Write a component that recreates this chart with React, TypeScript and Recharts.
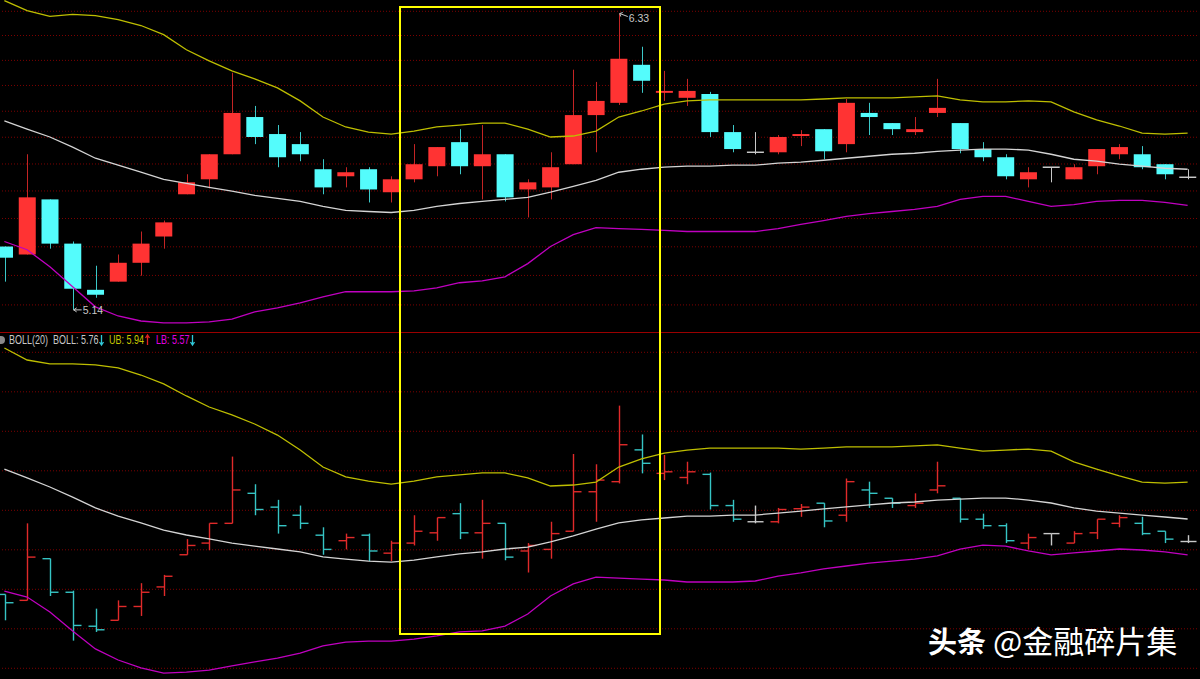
import React from "react";
import { ComposedChart, Bar, Line, XAxis, YAxis, CartesianGrid, ReferenceDot } from "recharts";

// daily OHLC
const open = [
  5.374, 5.344, 5.555, 5.385, 5.213, 5.243, 5.313, 5.412, 5.575, 5.634,
  5.734, 5.886, 5.816, 5.775, 5.674, 5.646, 5.674, 5.583, 5.634, 5.686,
  5.783, 5.686, 5.734, 5.594, 5.602, 5.694, 5.894, 5.945, 6.106, 5.987,
  5.966, 5.982, 5.824, 5.742, 5.742, 5.808, 5.836, 5.775, 5.903, 5.861,
  5.824, 5.903, 5.861, 5.755, 5.722, 5.634, 5.682, 5.634, 5.686, 5.734,
  5.734, 5.694, 5.642,
];
const high = [
  5.374, 5.734, 5.555, 5.393, 5.302, 5.344, 5.431, 5.473, 5.654, 5.734,
  6.072, 5.932, 5.853, 5.824, 5.714, 5.682, 5.682, 5.646, 5.775, 5.763,
  5.836, 5.853, 5.734, 5.634, 5.742, 6.085, 6.033, 6.33, 6.184, 6.08,
  6.046, 5.991, 5.853, 5.824, 5.812, 5.832, 5.836, 5.961, 5.945, 5.861,
  5.886, 6.046, 5.861, 5.783, 5.734, 5.682, 5.682, 5.694, 5.755, 5.775,
  5.767, 5.694, 5.674,
];
const low = [
  5.243, 5.344, 5.366, 5.14, 5.184, 5.243, 5.265, 5.366, 5.575, 5.598,
  5.734, 5.775, 5.682, 5.706, 5.575, 5.602, 5.543, 5.543, 5.622, 5.646,
  5.654, 5.555, 5.547, 5.485, 5.555, 5.694, 5.742, 5.936, 5.987, 5.953,
  5.932, 5.804, 5.742, 5.734, 5.734, 5.767, 5.714, 5.742, 5.812, 5.812,
  5.812, 5.886, 5.738, 5.706, 5.634, 5.602, 5.622, 5.634, 5.654, 5.714,
  5.674, 5.634, 5.634,
];
const close = [
  5.332, 5.563, 5.385, 5.217, 5.195, 5.313, 5.385, 5.466, 5.622, 5.734,
  5.903, 5.804, 5.722, 5.734, 5.602, 5.662, 5.594, 5.634, 5.694, 5.763,
  5.686, 5.734, 5.563, 5.622, 5.682, 5.894, 5.953, 6.132, 6.038, 5.995,
  5.995, 5.824, 5.755, 5.742, 5.804, 5.816, 5.746, 5.945, 5.886, 5.836,
  5.836, 5.924, 5.755, 5.722, 5.646, 5.662, 5.682, 5.682, 5.755, 5.763,
  5.682, 5.654, 5.642,
];
const days = open.map((_, i) => `${i + 1}`);

// bands drawn over the candles in the main panel
const topUB = [
  6.388, 6.343, 6.317, 6.326, 6.321, 6.303, 6.277, 6.237, 6.171, 6.123,
  6.08, 6.046, 6.008, 5.953, 5.886, 5.845, 5.824, 5.816, 5.828, 5.845,
  5.853, 5.861, 5.861, 5.836, 5.804, 5.808, 5.828, 5.886, 5.911, 5.94,
  5.953, 5.957, 5.957, 5.957, 5.957, 5.957, 5.961, 5.966, 5.966, 5.966,
  5.97, 5.974, 5.957, 5.949, 5.949, 5.953, 5.949, 5.907, 5.874, 5.849,
  5.82, 5.816, 5.82,
];
const topMid = [
  5.87, 5.836, 5.804, 5.763, 5.718, 5.69, 5.662, 5.634, 5.618, 5.602,
  5.587, 5.571, 5.559, 5.547, 5.528, 5.512, 5.508, 5.504, 5.512, 5.528,
  5.539, 5.547, 5.555, 5.563, 5.583, 5.606, 5.63, 5.662, 5.674, 5.682,
  5.686, 5.686, 5.69, 5.69, 5.698, 5.702, 5.71, 5.718, 5.726, 5.734,
  5.738, 5.746, 5.751, 5.755, 5.755, 5.751, 5.734, 5.714, 5.706, 5.694,
  5.686, 5.678, 5.674,
];
const topLB = [
  5.393, 5.362, 5.298, 5.224, 5.151, 5.118, 5.1, 5.093, 5.093, 5.097,
  5.107, 5.133, 5.147, 5.165, 5.187, 5.206, 5.206, 5.206, 5.209, 5.22,
  5.239, 5.246, 5.261, 5.31, 5.374, 5.419, 5.446, 5.442, 5.439, 5.435,
  5.431, 5.431, 5.431, 5.431, 5.442, 5.458, 5.473, 5.489, 5.5, 5.508,
  5.516, 5.528, 5.555, 5.567, 5.567, 5.547, 5.528, 5.535, 5.547, 5.551,
  5.551, 5.543, 5.532,
];

// BOLL(20) in the lower panel
const bollUB = [
  6.622, 6.561, 6.541, 6.541, 6.536, 6.521, 6.485, 6.44, 6.379, 6.323,
  6.283, 6.237, 6.181, 6.105, 6.019, 5.969, 5.948, 5.933, 5.948, 5.969,
  5.979, 5.989, 5.989, 5.964, 5.923, 5.928, 5.943, 6.019, 6.06, 6.09,
  6.105, 6.115, 6.115, 6.115, 6.115, 6.11, 6.115, 6.121, 6.121, 6.121,
  6.126, 6.131, 6.115, 6.1, 6.105, 6.11, 6.1, 6.045, 6.009, 5.974,
  5.943, 5.938, 5.943,
];
const bollMid = [
  6.009, 5.964, 5.918, 5.867, 5.812, 5.771, 5.736, 5.7, 5.675, 5.655,
  5.634, 5.619, 5.604, 5.589, 5.564, 5.553, 5.543, 5.538, 5.548, 5.564,
  5.579, 5.589, 5.604, 5.614, 5.64, 5.67, 5.705, 5.736, 5.751, 5.761,
  5.771, 5.771, 5.776, 5.776, 5.786, 5.796, 5.807, 5.817, 5.827, 5.837,
  5.842, 5.852, 5.857, 5.862, 5.862, 5.852, 5.837, 5.812, 5.796, 5.786,
  5.776, 5.766, 5.756,
];
const bollLB = [
  5.391, 5.361, 5.285, 5.189, 5.098, 5.042, 5.002, 4.976, 4.981, 4.991,
  5.012, 5.032, 5.052, 5.077, 5.113, 5.133, 5.138, 5.138, 5.148, 5.164,
  5.184, 5.189, 5.214, 5.275, 5.366, 5.427, 5.462, 5.457, 5.452, 5.447,
  5.437, 5.437, 5.437, 5.442, 5.467, 5.483, 5.503, 5.518, 5.533, 5.543,
  5.553, 5.569, 5.604, 5.624, 5.619, 5.594, 5.574, 5.584, 5.594, 5.604,
  5.599, 5.589, 5.574,
];

const topGrid = [5.158, 5.266, 5.373, 5.481, 5.588, 5.695, 5.803, 5.91, 6.018, 6.125, 6.233, 6.34];
const subGrid = [5.0, 5.2, 5.4, 5.6, 5.8, 6.0, 6.2, 6.4, 6.6];

const data = days.map((day, i) => ({
  day,
  open: open[i],
  high: high[i],
  low: low[i],
  close: close[i],
  range: [low[i], high[i]],
  ub: topUB[i],
  mid: topMid[i],
  lb: topLB[i],
  bub: bollUB[i],
  bmid: bollMid[i],
  blb: bollLB[i],
}));

const RED = "#ff3333";
const RED_WICK = "#c42424";
const CYAN = "#54fcfc";
const CYAN_WICK = "#3cc8c8";
const GRAY = "#c8c8c8";
const GRID = "#7d0000";
const FONT = "'Liberation Sans', Arial, sans-serif";

function colorsOf(o: number, c: number) {
  if (c > o) return { body: RED, wick: RED_WICK };
  if (c < o) return { body: CYAN, wick: CYAN_WICK };
  return { body: GRAY, wick: GRAY };
}

// main panel uses a log price scale, so open/close sit on the log interpolation
const Candle = (props: any) => {
  const { x, y, width, height, payload } = props;
  const { open: o, close: c, high: h, low: l } = payload;
  const top = Math.min(y, y + height);
  const span = Math.abs(height);
  const py = (p: number) =>
    h === l ? top : top + (span * (Math.log(h) - Math.log(p))) / (Math.log(h) - Math.log(l));
  const cx = Math.round(x + width / 2) + 0.5;
  const { body, wick } = colorsOf(o, c);
  const y1 = py(Math.max(o, c));
  const y2 = py(Math.min(o, c));
  return (
    <g>
      <line x1={cx} x2={cx} y1={top} y2={top + span} stroke={wick} strokeWidth={1} />
      {o === c ? (
        <line x1={x} x2={x + width} y1={y1} y2={y1} stroke={body} strokeWidth={1.5} />
      ) : (
        <rect x={x} y={y1} width={width} height={Math.max(y2 - y1, 1.5)} fill={body} />
      )}
    </g>
  );
};

// lower panel: open tick to the left, close tick to the right
const OhlcBar = (props: any) => {
  const { x, y, width, height, payload } = props;
  const { open: o, close: c, high: h, low: l } = payload;
  const top = Math.min(y, y + height);
  const span = Math.abs(height);
  const py = (p: number) => (h === l ? top : top + (span * (h - p)) / (h - l));
  const cx = Math.round(x + width / 2) + 0.5;
  const col = c > o ? "#e02a2a" : c < o ? "#36c4c4" : GRAY;
  return (
    <g stroke={col} strokeWidth={1.4}>
      <line x1={cx} x2={cx} y1={top} y2={top + span} />
      <line x1={cx - 8} x2={cx} y1={py(o)} y2={py(o)} />
      <line x1={cx} x2={cx + 8} y1={py(c)} y2={py(c)} />
    </g>
  );
};

const LowMark = (props: any) => {
  const { cx, cy } = props;
  return (
    <g>
      <path d={`M${cx + 1} ${cy}h8M${cx + 1} ${cy}l3 -2M${cx + 1} ${cy}l3 2`} stroke={GRAY} strokeWidth={1} fill="none" />
      <text x={cx + 10} y={cy + 4} fill={GRAY} fontSize={10.5} fontFamily={FONT}>5.14</text>
    </g>
  );
};

const HighMark = (props: any) => {
  const { cx, cy } = props;
  return (
    <g>
      <path d={`M${cx + 1} ${cy}l8 3M${cx + 1} ${cy}l1 3M${cx + 1} ${cy}l3 -1`} stroke={GRAY} strokeWidth={1} fill="none" />
      <text x={cx + 10} y={cy + 8} fill={GRAY} fontSize={10.5} fontFamily={FONT}>6.33</text>
    </g>
  );
};

const CHART_W = 1206;
const MARGIN = { top: 0, right: 0, bottom: 0, left: 0 };

export default function App() {
  return (
    <div style={{ position: "relative", width: 1200, height: 679, overflow: "hidden", background: "#000" }}>
      <style>{`body{margin:0;background:#000}`}</style>

      <div style={{ position: "absolute", left: -7, top: 0 }}>
        <ComposedChart width={CHART_W} height={333} data={data} margin={MARGIN} barCategoryGap={0}>
          <CartesianGrid vertical={false} horizontalValues={topGrid} stroke={GRID} strokeDasharray="1 2" />
          <XAxis dataKey="day" hide />
          <YAxis hide scale="log" domain={[5.0572, 6.3905]} allowDataOverflow ticks={topGrid} />
          <Line dataKey="ub" stroke="#bebe00" strokeWidth={1.3} dot={false} activeDot={false} isAnimationActive={false} />
          <Line dataKey="mid" stroke="#d4d4d4" strokeWidth={1.3} dot={false} activeDot={false} isAnimationActive={false} />
          <Line dataKey="lb" stroke="#c000c0" strokeWidth={1.3} dot={false} activeDot={false} isAnimationActive={false} />
          <Bar dataKey="range" barSize={17} shape={<Candle />} activeBar={false} isAnimationActive={false} />
          <ReferenceDot x={days[3]} y={low[3]} r={0} shape={<LowMark />} />
          <ReferenceDot x={days[27]} y={high[27]} r={0} shape={<HighMark />} />
        </ComposedChart>
      </div>

      <div style={{ position: "absolute", left: 0, top: 332, width: 1200, height: 1, background: "#9a0000" }} />

      <svg width={1200} height={14} style={{ position: "absolute", left: 0, top: 333 }}>
        <circle cx={1} cy={7} r={4} fill="#8a8a8a" />
        <g fontFamily={FONT} fontSize={9} transform="translate(0 11) scale(1 1.33)">
          <text x={9} y={0} fill="#c8c8c8">BOLL(20)</text>
          <text x={53} y={0} fill="#c8c8c8">BOLL: 5.76</text>
          <text x={109} y={0} fill="#c8c800">UB: 5.94</text>
          <text x={156} y={0} fill="#e000e0">LB: 5.57</text>
        </g>
        <path d="M101.5 2v9M99.5 9l2 3 2 -3" stroke="#30c8d8" strokeWidth={1.3} fill="none" />
        <path d="M147.5 12v-9M145.5 5l2 -3 2 3" stroke="#e02020" strokeWidth={1.3} fill="none" />
        <path d="M192.5 2v9M190.5 9l2 3 2 -3" stroke="#30c8d8" strokeWidth={1.3} fill="none" />
      </svg>

      <div style={{ position: "absolute", left: -7, top: 340 }}>
        <ComposedChart width={CHART_W} height={339} data={data} margin={MARGIN} barCategoryGap={0}>
          <CartesianGrid vertical={false} horizontalValues={subGrid} stroke={GRID} strokeDasharray="1 2" />
          <XAxis dataKey="day" hide />
          <YAxis hide domain={[4.9458, 6.6623]} allowDataOverflow ticks={subGrid} />
          <Line dataKey="bub" stroke="#bebe00" strokeWidth={1.3} dot={false} activeDot={false} isAnimationActive={false} />
          <Line dataKey="bmid" stroke="#d4d4d4" strokeWidth={1.3} dot={false} activeDot={false} isAnimationActive={false} />
          <Line dataKey="blb" stroke="#c000c0" strokeWidth={1.3} dot={false} activeDot={false} isAnimationActive={false} />
          <Bar dataKey="range" barSize={17} shape={<OhlcBar />} activeBar={false} isAnimationActive={false} />
        </ComposedChart>
      </div>

      <div
        style={{
          position: "absolute",
          left: 399,
          top: 6,
          width: 262,
          height: 629,
          boxSizing: "border-box",
          border: "2px solid #ffff00",
        }}
      />

      <div
        style={{
          position: "absolute",
          left: 928,
          top: 621,
          color: "#fff",
          fontFamily: "'Noto Sans CJK SC', sans-serif",
          lineHeight: "38px",
          whiteSpace: "nowrap",
          textShadow: "1px 1px 1px #000",
        }}
      >
        <span style={{ fontWeight: 700, fontSize: 29 }}>头条</span>
        <span style={{ fontWeight: 400, fontSize: 31 }}> @金融碎片集</span>
      </div>
    </div>
  );
}
